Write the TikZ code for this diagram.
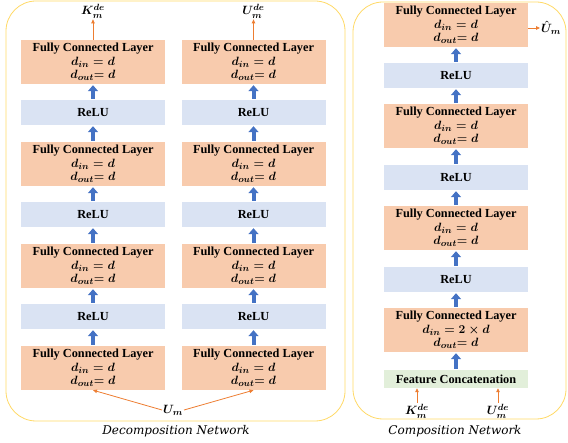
\documentclass[tikz,border=0pt]{standalone}
\usepackage{amsmath}
\usepackage{fontspec}
\setmainfont{Liberation Serif}
\newfontfamily\capfont{DejaVu Serif}
\usetikzlibrary{arrows.meta}
\definecolor{fcfill}{HTML}{F8CBAD}
\definecolor{relufill}{HTML}{DAE3F3}
\definecolor{catfill}{HTML}{E2EFDA}
\definecolor{bluearr}{HTML}{4472C4}
\definecolor{orgarr}{HTML}{ED7D31}
\definecolor{framecol}{HTML}{FFD966}
\begin{document}
\begin{tikzpicture}[x=1pt,y=-1pt,
  fc/.style={fill=fcfill, minimum width=144pt, minimum height=44pt, inner sep=0pt, align=center,
    font=\fontsize{12.3}{13.6}\selectfont\bfseries\boldmath},
  relu/.style={fill=relufill, minimum width=144pt, minimum height=25pt, inner sep=0pt,
    font=\fontsize{12.3}{13}\selectfont\bfseries},
  catbox/.style={fill=catfill, minimum width=144pt, minimum height=18pt, inner sep=0pt,
    font=\fontsize{12.3}{13}\selectfont\bfseries},
  lbl/.style={inner sep=1pt, font=\fontsize{12.5}{13}\selectfont\boldmath},
  captxt/.style={inner sep=0pt, font=\fontsize{12}{14}\selectfont\capfont\itshape},
  up/.style={draw=bluearr, line width=4pt, shorten <=1pt, shorten >=1pt, -{Triangle[width=10pt,length=6pt]}},
  orng/.style={draw=orgarr, line width=0.8pt, -{Triangle[width=3.5pt,length=4pt]}},
  frm/.style={draw=framecol, line width=0.8pt, rounded corners=30pt}]
\useasboundingbox (0,0) rectangle (568,443);
% frames
\draw[frm] (6,1) rectangle (345,421);
\draw[frm] (353,2) rectangle (566,419);
% left columns
\newcommand{\fctext}{Fully Connected Layer\\ $d_{in}=d$\\ $d_{out}{=}\;d$}
\foreach \col/\x in {a/93,b/253.5}{
  \node[fc] (\col1) at (\x,62) {\fctext};
  \node[relu] (\col r1) at (\x,112.5) {ReLU};
  \node[fc] (\col2) at (\x,164) {\fctext};
  \node[relu] (\col r2) at (\x,214.5) {ReLU};
  \node[fc] (\col3) at (\x,266) {\fctext};
  \node[relu] (\col r3) at (\x,316.5) {ReLU};
  \node[fc] (\col4) at (\x,368) {\fctext};
  \draw[up] (\col4.north) -- (\col r3.south);
  \draw[up] (\col r3.north) -- (\col3.south);
  \draw[up] (\col3.north) -- (\col r2.south);
  \draw[up] (\col r2.north) -- (\col2.south);
  \draw[up] (\col2.north) -- (\col r1.south);
  \draw[up] (\col r1.north) -- (\col1.south);
}
\node[lbl] (kde) at (93,11) {$K_m^{de}$};
\node[lbl] (ude) at (253.5,11) {$U_m^{de}$};
\draw[orng] (a1.north) -- (kde.south);
\draw[orng] (b1.north) -- (ude.south);
\node[lbl] (um) at (173,410) {$U_m$};
\draw[orng] (um.west) -- (a4.south);
\draw[orng] (um.east) -- (b4.south);
\node[captxt] (capl) at (176,431) {Decomposition Network};
% right column
\node[fc] (c1) at (456,25) {\fctext};
\node[relu] (cr1) at (456,75.5) {ReLU};
\node[fc] (c2) at (456,126) {\fctext};
\node[relu] (cr2) at (456,177.5) {ReLU};
\node[fc] (c3) at (456,228) {\fctext};
\node[relu] (cr3) at (456,279.5) {ReLU};
\node[fc] (c4) at (456,330) {Fully Connected Layer\\ $d_{in}=2\times d$\\ $d_{out}{=}\;d$};
\node[catbox] (cc) at (456,379) {Feature Concatenation};
\draw[up] (cc.north) -- (c4.south);
\draw[up] (c4.north) -- (cr3.south);
\draw[up] (cr3.north) -- (c3.south);
\draw[up] (c3.north) -- (cr2.south);
\draw[up] (cr2.north) -- (c2.south);
\draw[up] (c2.north) -- (cr1.south);
\draw[up] (cr1.north) -- (c1.south);
\node[lbl] (kde2) at (417,411) {$K_m^{de}$};
\node[lbl] (ude2) at (498,411) {$U_m^{de}$};
\draw[orng] (kde2.north) -- (kde2.north |- cc.south);
\draw[orng] (ude2.north) -- (ude2.north |- cc.south);
\node[lbl, anchor=west] (hatu) at (540,28) {$\hat{U}_m$};
\draw[orng] (c1.east |- hatu) -- (hatu.west);
\node[captxt] (capr) at (455,431) {Composition Network};
\end{tikzpicture}
\end{document}
